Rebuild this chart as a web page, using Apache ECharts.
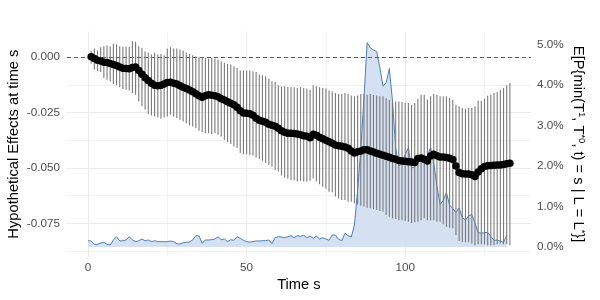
<!DOCTYPE html>
<html><head><meta charset="utf-8">
<script src="https://cdn.jsdelivr.net/npm/echarts@6/dist/echarts.min.js"></script>
<style>html,body{margin:0;padding:0;background:#fff}#c{width:600px;height:300px}</style>
</head><body><div id="c"></div>
<script>
// ---------------- data ----------------
const time = [0,1,2,3,4,5,6,7,8,9,10,11,12,13,14,15,16,17,18,19,20,21,22,23,24,25,26,27,28,29,30,31,32,33,34,35,36,37,38,39,40,41,42,43,44,45,46,47,48,49,50,51,52,53,54,55,56,57,58,59,60,61,62,63,64,65,66,67,68,69,70,71,72,73,74,75,76,77,78,79,80,81,82,83,84,85,86,87,88,89,90,91,92,93,94,95,96,97,98,99,100,101,102,103,104,105,106,107,108,109,110,111,112,113,114,115,116,117,118,119,120,121,122,123,124,125,126,127,128,129,130,131,132,133];

const estimate = [null,
 0.0001,-0.0007,-0.0014,-0.0018,-0.0023,-0.0025,-0.0029,-0.0034,-0.0038,-0.0045,
 -0.0050,-0.0052,-0.0053,-0.0047,-0.0045,-0.0061,-0.0077,-0.0093,-0.0106,-0.0118,
 -0.0127,-0.0129,-0.0127,-0.0122,-0.0115,-0.0114,-0.0118,-0.0122,-0.0129,-0.0136,
 -0.0142,-0.0149,-0.0156,-0.0165,-0.0174,-0.0181,-0.0174,-0.0170,-0.0172,-0.0174,
 -0.0179,-0.0188,-0.0194,-0.0201,-0.0208,-0.0215,-0.0226,-0.0242,-0.0252,-0.0253,
 -0.0255,-0.0262,-0.0276,-0.0285,-0.0289,-0.0294,-0.0303,-0.0307,-0.0312,-0.0321,
 -0.0332,-0.0339,-0.0343,-0.0343,-0.0345,-0.0347,-0.0350,-0.0355,-0.0357,-0.0364,
 -0.0348,-0.0353,-0.0362,-0.0368,-0.0375,-0.0382,-0.0389,-0.0396,-0.0400,-0.0402,
 -0.0405,-0.0411,-0.0423,-0.0432,-0.0427,-0.0423,-0.0418,-0.0418,-0.0423,-0.0428,
 -0.0434,-0.0438,-0.0443,-0.0447,-0.0452,-0.0457,-0.0461,-0.0466,-0.0468,-0.0470,
 -0.0472,-0.0473,-0.0475,-0.0457,-0.0455,-0.0461,-0.0469,-0.0446,-0.0438,-0.0445,
 -0.0450,-0.0451,-0.0453,-0.0456,-0.0462,-0.0491,-0.0520,-0.0526,-0.0527,-0.0527,
 -0.0530,-0.0538,-0.0518,-0.0503,-0.0493,-0.0490,-0.0489,-0.0488,-0.0487,-0.0486,
 -0.0484,-0.0481,-0.0479];

const lower = [null,
 -0.0030,-0.0057,-0.0064,-0.0067,-0.0094,-0.0102,-0.0109,-0.0121,-0.0127,-0.0136,
 -0.0144,-0.0147,-0.0151,-0.0162,-0.0170,-0.0200,-0.0222,-0.0237,-0.0257,-0.0263,
 -0.0268,-0.0272,-0.0278,-0.0272,-0.0268,-0.0260,-0.0268,-0.0275,-0.0283,-0.0290,
 -0.0298,-0.0308,-0.0313,-0.0320,-0.0332,-0.0338,-0.0343,-0.0343,-0.0347,-0.0343,
 -0.0350,-0.0358,-0.0373,-0.0383,-0.0392,-0.0403,-0.0410,-0.0433,-0.0438,-0.0438,
 -0.0441,-0.0444,-0.0453,-0.0459,-0.0468,-0.0478,-0.0486,-0.0494,-0.0509,-0.0516,
 -0.0534,-0.0543,-0.0549,-0.0554,-0.0555,-0.0561,-0.0558,-0.0561,-0.0561,-0.0558,
 -0.0546,-0.0561,-0.0573,-0.0584,-0.0594,-0.0607,-0.0609,-0.0629,-0.0637,-0.0644,
 -0.0644,-0.0652,-0.0652,-0.0659,-0.0664,-0.0670,-0.0674,-0.0679,-0.0682,-0.0685,
 -0.0689,-0.0694,-0.0697,-0.0712,-0.0720,-0.0727,-0.0730,-0.0735,-0.0735,-0.0739,
 -0.0742,-0.0749,-0.0745,-0.0742,-0.0735,-0.0727,-0.0735,-0.0735,-0.0735,-0.0742,
 -0.0742,-0.0754,-0.0765,-0.0769,-0.0772,-0.0802,-0.0829,-0.0833,-0.0835,-0.0835,
 -0.0840,-0.0848,-0.0844,-0.0844,-0.0844,-0.0848,-0.0848,-0.0848,-0.0844,-0.0840,
 -0.0844,-0.0844,-0.0848];

const upper = [null,
 0.0028,0.0038,0.0029,0.0044,0.0049,0.0052,0.0049,0.0060,0.0057,0.0049,
 0.0046,0.0046,0.0046,0.0071,0.0069,0.0049,0.0042,0.0026,0.0019,0.0011,
 0.0019,0.0011,0.0014,0.0008,0.0038,0.0044,0.0038,0.0038,0.0034,0.0029,
 0.0019,0.0014,0.0008,0.0004,-0.0001,-0.0001,-0.0004,-0.0007,-0.0004,-0.0007,
 -0.0011,-0.0019,-0.0026,-0.0031,-0.0034,-0.0042,-0.0049,-0.0061,-0.0061,-0.0061,
 -0.0061,-0.0064,-0.0067,-0.0079,-0.0082,-0.0087,-0.0097,-0.0109,-0.0112,-0.0127,
 -0.0132,-0.0132,-0.0135,-0.0136,-0.0136,-0.0139,-0.0136,-0.0139,-0.0142,-0.0147,
 -0.0127,-0.0132,-0.0136,-0.0139,-0.0142,-0.0151,-0.0155,-0.0162,-0.0166,-0.0166,
 -0.0162,-0.0166,-0.0173,-0.0177,-0.0173,-0.0166,-0.0166,-0.0170,-0.0166,-0.0170,
 -0.0173,-0.0177,-0.0177,-0.0184,-0.0192,-0.0192,-0.0200,-0.0200,-0.0203,-0.0207,
 -0.0207,-0.0215,-0.0207,-0.0188,-0.0170,-0.0170,-0.0192,-0.0177,-0.0166,-0.0170,
 -0.0177,-0.0177,-0.0177,-0.0184,-0.0192,-0.0215,-0.0222,-0.0230,-0.0233,-0.0230,
 -0.0230,-0.0222,-0.0197,-0.0197,-0.0188,-0.0174,-0.0170,-0.0162,-0.0157,-0.0147,
 -0.0139,-0.0127,-0.0117];

// probability in percent (right axis), defined for time 0..132
const probability = [
 0.153,0.146,0.064,0.064,0.096,0.114,0.064,0.047,0.171,0.252,
 0.146,0.153,0.171,0.252,0.171,0.129,0.153,0.195,0.153,0.171,
 0.129,0.153,0.129,0.129,0.129,0.129,0.146,0.129,0.079,0.072,
 0.104,0.114,0.121,0.171,0.277,0.269,0.089,0.171,0.171,0.178,
 0.195,0.252,0.178,0.195,0.129,0.178,0.163,0.252,0.213,0.163,
 0.129,0.121,0.129,0.146,0.146,0.153,0.153,0.171,0.079,0.227,
 0.252,0.245,0.227,0.252,0.277,0.227,0.277,0.262,0.287,0.227,
 0.269,0.213,0.269,0.195,0.227,0.195,0.163,0.294,0.294,0.188,
 0.153,0.336,0.277,0.245,0.54,1.41,2.40,3.68,5.05,4.92,
 4.87,4.83,4.44,3.97,4.06,4.41,3.60,2.45,2.00,2.10,
 2.28,2.45,1.95,1.98,2.12,2.20,2.16,2.24,2.46,2.07,
 1.50,1.05,1.15,1.34,1.03,0.95,0.85,0.96,0.73,0.66,
 0.77,0.80,0.59,0.35,0.34,0.35,0.36,0.26,0.16,0.17,
 0.14,0.11,0.28, null];

const xTicks = [0, 50, 100];
const xMinorTicks = [25, 75, 125];
const yTicks = [-0.075, -0.05, -0.025, 0];
const yMinorTicks = [-0.0875, -0.0625, -0.0375, -0.0125];
const rightTicks = [0, 1, 2, 3, 4, 5];

// ---------------- layout ----------------
const PX0 = 88, KX = 3.172;          // pixel of time 0, pixels per time unit
const XMIN = -6.65, XMAX = 139.65;   // panel x range
const PY0 = 57.05, KY = 2218.8;      // pixel of effect 0, pixels per unit effect
const TOP = 31.5, BOT = 256.7;       // panel top / bottom
const RP0 = 246.9, RK = 40.45;       // pixel of 0%, pixels per percent
const px = s => PX0 + KX * s;
const py = v => PY0 - KY * v;
const pr = p => RP0 - RK * p;
const panelLeft = px(XMIN), panelW = (XMAX - XMIN) * KX;
const yMaxData = (PY0 - TOP) / KY, yMinData = -(BOT - PY0) / KY;

const FONT = '"Liberation Sans", Arial, sans-serif';
const tickTxt = {color: '#4d4d4d', fontSize: 11.7, fontFamily: FONT};
const titleTxt = {color: '#000', fontSize: 14.7, fontFamily: FONT};
const majorLine = {show: true, lineStyle: {color: '#ebebeb', width: 1}};
const minorLine = {show: true, lineStyle: {color: '#ebebeb', width: 0.6}};
const hidden = {show: false};
const gridBase = {containLabel: false, outerBoundsMode: 'none', show: false};

const stepOf = a => a[1] - a[0];

const option = {
  animation: false,
  backgroundColor: '#fff',
  grid: [
    Object.assign({left: px(xTicks[0]), width: (xTicks[xTicks.length-1]-xTicks[0]) * KX, top: TOP, height: BOT - TOP}, gridBase),
    Object.assign({left: px(xMinorTicks[0]), width: (xMinorTicks[xMinorTicks.length-1]-xMinorTicks[0]) * KX, top: TOP, height: BOT - TOP}, gridBase),
    Object.assign({left: panelLeft, width: panelW, top: py(yTicks[yTicks.length-1]), height: (yTicks[yTicks.length-1]-yTicks[0]) * KY}, gridBase),
    Object.assign({left: panelLeft, width: panelW, top: py(yMinorTicks[yMinorTicks.length-1]), height: (yMinorTicks[yMinorTicks.length-1]-yMinorTicks[0]) * KY}, gridBase),
    Object.assign({left: panelLeft, width: panelW, top: pr(rightTicks[rightTicks.length-1]), height: (rightTicks[rightTicks.length-1]-rightTicks[0]) * RK}, gridBase),
    Object.assign({left: panelLeft, width: panelW, top: TOP, height: BOT - TOP}, gridBase)
  ],
  xAxis: [
    {type: 'value', gridIndex: 0, min: xTicks[0], max: xTicks[xTicks.length-1], interval: stepOf(xTicks),
     axisLine: hidden, axisTick: hidden, axisLabel: Object.assign({margin: 5}, tickTxt), splitLine: majorLine},
    {type: 'value', gridIndex: 1, min: xMinorTicks[0], max: xMinorTicks[xMinorTicks.length-1], interval: stepOf(xMinorTicks),
     axisLine: hidden, axisTick: hidden, axisLabel: hidden, splitLine: minorLine},
    {type: 'value', gridIndex: 2, min: XMIN, max: XMAX, show: false},
    {type: 'value', gridIndex: 3, min: XMIN, max: XMAX, show: false},
    {type: 'value', gridIndex: 4, min: XMIN, max: XMAX, show: false},
    {type: 'value', gridIndex: 5, min: XMIN, max: XMAX, axisLine: hidden, axisTick: hidden, axisLabel: hidden, splitLine: hidden,
     name: 'Time s', nameLocation: 'middle', nameGap: 21, nameTextStyle: titleTxt}
  ],
  yAxis: [
    {type: 'value', gridIndex: 0, min: 0, max: 1, show: false},
    {type: 'value', gridIndex: 1, min: 0, max: 1, show: false},
    {type: 'value', gridIndex: 2, min: yTicks[0], max: yTicks[yTicks.length-1], interval: stepOf(yTicks),
     axisLine: hidden, axisTick: hidden, splitLine: majorLine,
     axisLabel: Object.assign({margin: 7, formatter: v => (Math.abs(v) < 1e-9 ? 0 : v).toFixed(3)}, tickTxt)},
    {type: 'value', gridIndex: 3, min: yMinorTicks[0], max: yMinorTicks[yMinorTicks.length-1], interval: stepOf(yMinorTicks),
     axisLine: hidden, axisTick: hidden, axisLabel: hidden, splitLine: minorLine},
    {type: 'value', gridIndex: 4, position: 'right', min: rightTicks[0], max: rightTicks[rightTicks.length-1], interval: stepOf(rightTicks),
     axisLine: hidden, axisTick: hidden, splitLine: hidden,
     axisLabel: Object.assign({margin: 6, formatter: v => v.toFixed(1) + '%'}, tickTxt)},
    {type: 'value', gridIndex: 5, min: yMinData, max: yMaxData, axisLine: hidden, axisTick: hidden, axisLabel: hidden, splitLine: hidden,
     name: 'Hypothetical Effects at time s', nameLocation: 'middle', nameGap: 45, nameTextStyle: titleTxt},
    {type: 'value', gridIndex: 5, position: 'right', min: yMinData, max: yMaxData, axisLine: hidden, axisTick: hidden, axisLabel: hidden, splitLine: hidden,
     name: 'E[P{min(T{s|1}, T{s|*0}, t) = s | L = L{s|*}}]', nameLocation: 'middle', nameRotate: -90, nameGap: 38,
     nameTextStyle: Object.assign({lineHeight: 18, rich: {s: {fontSize: 9.5, fontFamily: FONT, color: '#000', verticalAlign: 'top', lineHeight: 18}}}, titleTxt)}
  ],
  series: [
    {type: 'line', xAxisIndex: 4, yAxisIndex: 4, clip: false, symbol: 'none', z: 1,
     data: time.map((t, i) => [t, probability[i]]),
     lineStyle: {color: '#4a80b8', width: 1}, areaStyle: {color: '#d5e1f3', opacity: 1}},
    {type: 'custom', xAxisIndex: 5, yAxisIndex: 5, z: 3, clip: false,
     data: time.map((t, i) => [t, lower[i], upper[i]]).filter(d => d[1] !== null),
     encode: {x: 0, y: [1, 2]},
     renderItem: (params, api) => {
       const a = api.coord([api.value(0), api.value(1)]);
       const b = api.coord([api.value(0), api.value(2)]);
       return {type: 'line', shape: {x1: a[0], y1: a[1], x2: b[0], y2: b[1]},
               style: {stroke: '#7a7a7a', lineWidth: 1.1}};
     },
     markLine: {silent: true, symbol: ['none', 'none'], label: {show: false}, z: 2,
       lineStyle: {color: '#555555', width: 1, type: [4, 3]}, data: [{yAxis: 0}]}},
    {type: 'scatter', xAxisIndex: 5, yAxisIndex: 5, z: 5, symbolSize: 7.5,
     itemStyle: {color: '#000', opacity: 1},
     data: time.map((t, i) => [t, estimate[i]]).filter(d => d[1] !== null)}
  ]
};

const chart = echarts.init(document.getElementById('c'), null, {renderer: 'canvas'});
chart.setOption(option);
</script>
</body></html>
